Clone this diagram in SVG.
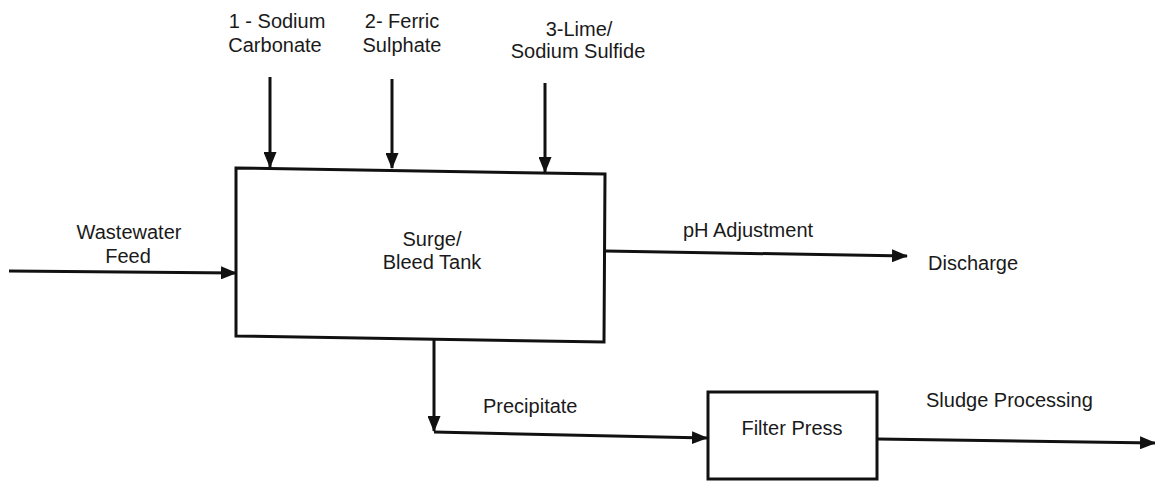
<svg xmlns="http://www.w3.org/2000/svg" width="1155" height="483" viewBox="0 0 1155 483">
<style>
.t{font-family:"Liberation Sans",Arial,sans-serif;font-size:20px;fill:#1a1a1a}
.c{text-anchor:middle}
.box{fill:#fff;stroke:#111;stroke-width:3}
.ln{fill:none;stroke:#111;stroke-width:3}
</style>
<defs>
<marker id="ah" viewBox="0 0 16 13" refX="15" refY="6.5" markerWidth="16" markerHeight="13" markerUnits="userSpaceOnUse" orient="auto">
<path d="M0,0 L16,6.5 L0,13 Z" fill="#111"/>
</marker>
</defs>
<rect width="1155" height="483" fill="#fff"/>
<g id="connectors">
<line class="ln" x1="270" y1="77" x2="270" y2="167" marker-end="url(#ah)"/>
<line class="ln" x1="392" y1="79" x2="392" y2="168" marker-end="url(#ah)"/>
<line class="ln" x1="545" y1="83" x2="545" y2="172" marker-end="url(#ah)"/>
<line class="ln" x1="9" y1="271" x2="236" y2="273" marker-end="url(#ah)"/>
<line class="ln" x1="605" y1="251" x2="907" y2="256" marker-end="url(#ah)"/>
<line class="ln" x1="434" y1="340" x2="434" y2="431" marker-end="url(#ah)"/>
<line class="ln" x1="434" y1="432" x2="707" y2="438" marker-end="url(#ah)"/>
<line class="ln" x1="877" y1="439" x2="1155" y2="443" marker-end="url(#ah)"/>
</g>
<g id="tank">
<polygon class="box" points="236,168 605,174 604,342 236,336"/>
<text class="t c" x="432" y="246">Surge/</text>
<text class="t c" x="432" y="269">Bleed Tank</text>
</g>
<g id="filter-press">
<rect class="box" x="708" y="392" width="169" height="87"/>
<text class="t c" x="792" y="435">Filter Press</text>
</g>
<g id="labels">
<text class="t c" x="277" y="28">1 - Sodium</text>
<text class="t c" x="275" y="52">Carbonate</text>
<text class="t c" x="402" y="28">2- Ferric</text>
<text class="t c" x="402" y="52">Sulphate</text>
<text class="t c" x="579" y="36">3-Lime/</text>
<text class="t c" x="578" y="58">Sodium Sulfide</text>
<text class="t c" x="129" y="239">Wastewater</text>
<text class="t c" x="128" y="263">Feed</text>
<text class="t" x="683" y="237">pH Adjustment</text>
<text class="t" x="928" y="270">Discharge</text>
<text class="t" x="483" y="413">Precipitate</text>
<text class="t" x="926" y="407">Sludge Processing</text>
</g>
</svg>
